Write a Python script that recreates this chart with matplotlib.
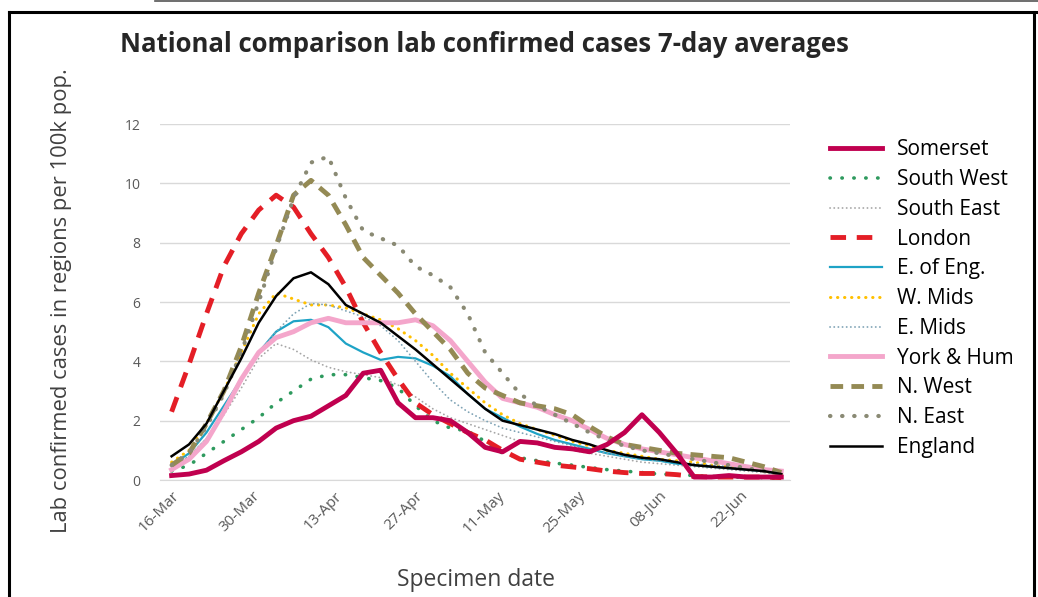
import matplotlib
matplotlib.use("Agg")
import matplotlib.pyplot as plt
from matplotlib.lines import Line2D

plt.rcParams['font.family'] = ['Open Sans', 'DejaVu Sans']

# days since 16-Mar, every 3 days
days = list(range(0, 106, 3))

somerset = [0.15, 0.2, 0.33, 0.65, 0.95, 1.3, 1.75, 2.0, 2.15, 2.5, 2.85, 3.6, 3.7, 2.6,
            2.1, 2.1, 2.0, 1.6, 1.1, 0.95, 1.3, 1.25, 1.1, 1.05, 0.95, 1.2, 1.6, 2.2, 1.6,
            0.9, 0.1, 0.1, 0.15, 0.1, 0.1, 0.1]
south_west = [0.3, 0.5, 0.9, 1.3, 1.7, 2.1, 2.6, 3.0, 3.4, 3.55, 3.55, 3.45, 3.35, 3.1,
              2.5, 2.0, 1.75, 1.65, 1.3, 0.9, 0.75, 0.65, 0.57, 0.5, 0.42, 0.35, 0.3, 0.25,
              0.2, 0.18, 0.15, 0.12, 0.1, 0.1, 0.08, 0.05]
south_east = [0.4, 0.8, 1.4, 2.2, 3.1, 4.1, 4.6, 4.4, 4.05, 3.8, 3.65, 3.55, 3.45, 3.2,
              2.8, 2.4, 2.1, 1.9, 1.7, 1.5, 1.3, 1.2, 1.1, 1.0, 0.9, 0.8, 0.7, 0.6,
              0.55, 0.5, 0.45, 0.4, 0.35, 0.3, 0.25, 0.15]
london = [2.3, 3.9, 5.6, 7.2, 8.3, 9.1, 9.6, 9.2, 8.3, 7.5, 6.5, 5.3, 4.3, 3.4,
          2.6, 2.2, 1.9, 1.6, 1.35, 1.0, 0.7, 0.6, 0.5, 0.44, 0.38, 0.3, 0.25, 0.22,
          0.22, 0.18, 0.12, 0.1, 0.1, 0.1, 0.1, 0.08]
e_of_eng = [0.5, 0.9, 1.6, 2.5, 3.4, 4.3, 5.0, 5.35, 5.4, 5.15, 4.6, 4.3, 4.05, 4.15,
            4.1, 3.85, 3.5, 2.9, 2.4, 2.1, 1.8, 1.55, 1.35, 1.2, 1.05, 0.9, 0.8, 0.7,
            0.65, 0.55, 0.5, 0.45, 0.4, 0.35, 0.3, 0.2]
w_mids = [0.6, 1.0, 1.9, 3.0, 4.3, 5.6, 6.3, 6.1, 5.9, 5.9, 5.8, 5.6, 5.4, 5.1,
          4.7, 4.2, 3.6, 3.1, 2.6, 2.2, 1.9, 1.7, 1.5, 1.3, 1.15, 1.0, 0.9, 0.8,
          0.7, 0.65, 0.6, 0.5, 0.45, 0.4, 0.3, 0.2]
e_mids = [0.5, 0.8, 1.4, 2.3, 3.3, 4.3, 5.0, 5.6, 5.95, 5.9, 5.7, 5.5, 5.2, 4.7,
          4.0, 3.3, 2.7, 2.3, 2.0, 1.75, 1.6, 1.45, 1.3, 1.15, 1.0, 0.9, 0.8, 0.7,
          0.65, 0.6, 0.55, 0.5, 0.45, 0.4, 0.3, 0.2]
york_hum = [0.35, 0.7, 1.3, 2.3, 3.4, 4.3, 4.8, 5.0, 5.3, 5.45, 5.3, 5.3, 5.3, 5.3,
            5.4, 5.2, 4.7, 4.0, 3.3, 2.75, 2.6, 2.45, 2.2, 2.0, 1.7, 1.4, 1.2, 1.05,
            0.95, 0.85, 0.75, 0.65, 0.55, 0.45, 0.35, 0.3]
n_west = [0.5, 0.9, 1.9, 3.0, 4.5, 6.3, 7.9, 9.6, 10.1, 9.6, 8.6, 7.5, 6.9, 6.3,
          5.6, 5.0, 4.4, 3.6, 3.1, 2.85, 2.6, 2.5, 2.4, 2.2, 1.8, 1.45, 1.2, 1.1,
          1.0, 0.9, 0.85, 0.8, 0.75, 0.6, 0.45, 0.25]
n_east = [0.5, 0.9, 1.8, 2.9, 4.3, 6.0, 7.8, 9.5, 10.7, 10.9, 9.5, 8.4, 8.15, 7.9,
          7.2, 6.9, 6.5, 5.6, 4.3, 3.6, 2.9, 2.5, 2.2, 1.9, 1.6, 1.35, 1.15, 1.0,
          0.9, 0.8, 0.7, 0.6, 0.5, 0.4, 0.3, 0.2]
england = [0.8, 1.2, 1.9, 3.0, 4.1, 5.3, 6.2, 6.8, 7.0, 6.6, 5.9, 5.6, 5.3, 4.85,
           4.4, 3.9, 3.4, 2.9, 2.4, 2.0, 1.85, 1.7, 1.55, 1.35, 1.2, 1.0, 0.85, 0.75,
           0.7, 0.6, 0.5, 0.45, 0.4, 0.35, 0.3, 0.2]

tick_days = [0, 14, 28, 42, 56, 70, 84, 98]
tick_labels = ['16-Mar', '30-Mar', '13-Apr', '27-Apr', '11-May', '25-May', '08-Jun', '22-Jun']

series = [
    ('Somerset', somerset, dict(color='#C0004F', lw=3.5, ls='-', zorder=12)),
    ('South West', south_west, dict(color='#2E9A5E', lw=2.6, ls=(0, (0.1, 3.2)), dash_capstyle='round')),
    ('South East', south_east, dict(color='#A6A6A6', lw=1.3, ls=(0, (0.1, 2.2)), dash_capstyle='round')),
    ('London', london, dict(color='#E41E26', lw=3.5, ls=(0, (3.2, 2.2)))),
    ('E. of Eng.', e_of_eng, dict(color='#1EA3C6', lw=1.6, ls='-')),
    ('W. Mids', w_mids, dict(color='#FFC000', lw=2.2, ls=(0, (0.1, 2.2)), dash_capstyle='round')),
    ('E. Mids', e_mids, dict(color='#7FA3B5', lw=1.3, ls=(0, (0.1, 2.2)), dash_capstyle='round')),
    ('York & Hum', york_hum, dict(color='#F4A6CB', lw=3.5, ls='-')),
    ('N. West', n_west, dict(color='#948A54', lw=3.5, ls=(0, (2.6, 1.7)))),
    ('N. East', n_east, dict(color='#8A8A74', lw=3.0, ls=(0, (0.1, 2.8)), dash_capstyle='round')),
    ('England', england, dict(color='#000000', lw=1.8, ls='-')),
]

fig = plt.figure(figsize=(10.38, 5.97), dpi=100)
ax = fig.add_axes([160 / 1038, 1 - 480 / 597, 630 / 1038, 356 / 597])

handles = []
for i, (name, vals, style) in enumerate(series):
    style = dict(style)
    z = style.pop('zorder', 3 + i * 0.1)
    h, = ax.plot(days, vals, label=name, zorder=z, clip_on=False, **style)
    handles.append(h)

ax.set_xlim(-2, 106.5)
ax.set_ylim(0, 12)
ax.set_yticks(range(0, 13, 2))
ax.set_xticks(tick_days)
ax.set_xticklabels(tick_labels, rotation=45, ha='right', rotation_mode='anchor')
ax.tick_params(axis='both', length=0, labelsize=10, colors='#595959')
ax.tick_params(axis='x', labelsize=11, pad=6)
ax.tick_params(axis='y', pad=14)
ax.grid(axis='y', color='#D9D9D9', lw=1)
ax.set_axisbelow(True)
for s in ['top', 'right', 'left']:
    ax.spines[s].set_visible(False)
ax.spines['bottom'].set_color('#D9D9D9')

fig.text(476 / 1038, 1 - 580 / 597, 'Specimen date', ha='center', va='center',
         fontsize=16.5, color='#404040')
fig.text(62 / 1038, 1 - 301 / 597, 'Lab confirmed cases in regions per 100k pop.',
         rotation=90, ha='center', va='center', fontsize=15.8, color='#404040')

fig.text(120 / 1038, 1 - 44 / 597, 'National comparison lab confirmed cases 7-day averages',
         ha='left', va='center', fontsize=18.5, fontweight='bold', color='#262626')

fig.legend(handles=handles, loc='upper left', bbox_to_anchor=(822 / 1038, 1 - 131 / 597),
           frameon=False, fontsize=15, handlelength=2.5, handletextpad=0.7,
           labelspacing=0.42, borderaxespad=0)

# black frame around chart
frame = dict(color='black', lw=2.2, transform=fig.transFigure, clip_on=False)
fig.add_artist(Line2D([9 / 1038, 9 / 1038], [0, 1 - 12 / 597], **frame))
fig.add_artist(Line2D([9 / 1038, 1], [1 - 12 / 597, 1 - 12 / 597], **frame))
fig.add_artist(Line2D([1034 / 1038, 1034 / 1038], [0, 1 - 12 / 597], **frame))
fig.add_artist(Line2D([155 / 1038, 1], [1 - 1 / 597, 1 - 1 / 597], color='#555555', lw=1.2,
                      transform=fig.transFigure))

fig.savefig('out.png', dpi=100)
